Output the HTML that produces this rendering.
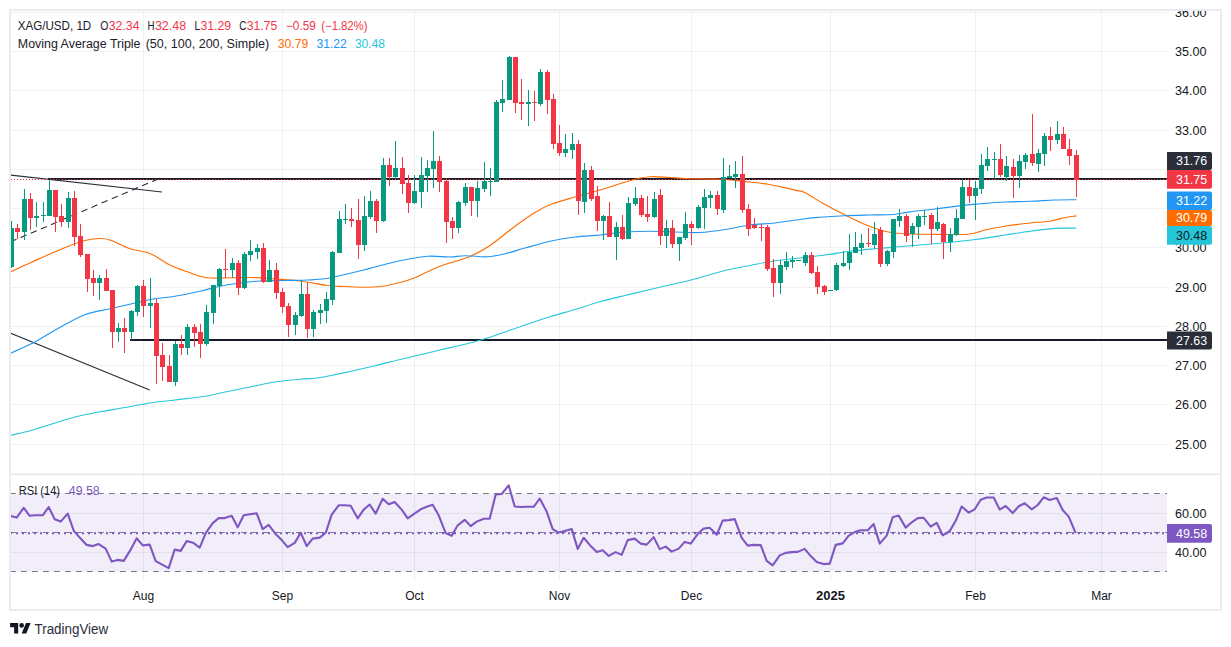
<!DOCTYPE html><html><head><meta charset="utf-8"><title>XAG/USD</title>
<style>html,body{margin:0;padding:0;background:#fff;}body{width:1231px;height:647px;overflow:hidden;}svg{display:block;position:absolute;left:0;top:0;}text{font-family:"Liberation Sans",sans-serif;}</style></head><body>
<svg width="1231" height="647" viewBox="0 0 1231 647">
<rect width="1231" height="647" fill="#fff"/>
<defs><clipPath id="plot"><rect x="11" y="11" width="1156" height="463"/></clipPath><clipPath id="rsi"><rect x="11" y="475" width="1156" height="105"/></clipPath><clipPath id="axis"><rect x="1167" y="11" width="54" height="463"/></clipPath></defs>
<rect x="11" y="493.5" width="1156" height="78" fill="#f1edf9"/>
<g stroke="rgba(42,46,57,0.065)" stroke-width="1" shape-rendering="crispEdges">
<line x1="11" x2="1167" y1="444.5" y2="444.5"/>
<line x1="11" x2="1167" y1="404.5" y2="404.5"/>
<line x1="11" x2="1167" y1="365.5" y2="365.5"/>
<line x1="11" x2="1167" y1="326.5" y2="326.5"/>
<line x1="11" x2="1167" y1="287.5" y2="287.5"/>
<line x1="11" x2="1167" y1="247.5" y2="247.5"/>
<line x1="11" x2="1167" y1="208.5" y2="208.5"/>
<line x1="11" x2="1167" y1="169.5" y2="169.5"/>
<line x1="11" x2="1167" y1="130.5" y2="130.5"/>
<line x1="11" x2="1167" y1="90.5" y2="90.5"/>
<line x1="11" x2="1167" y1="51.5" y2="51.5"/>
<line x1="11" x2="1167" y1="12.5" y2="12.5"/>
</g>
<g stroke="rgba(42,46,57,0.065)" stroke-width="1" shape-rendering="crispEdges">
<line x1="11" x2="1167" y1="513.5" y2="513.5"/>
<line x1="11" x2="1167" y1="552.5" y2="552.5"/>
</g>
<g stroke="rgba(42,46,57,0.065)" stroke-width="1" shape-rendering="crispEdges">
<line x1="143.5" x2="143.5" y1="11" y2="474"/>
<line x1="282.5" x2="282.5" y1="11" y2="474"/>
<line x1="414.5" x2="414.5" y1="11" y2="474"/>
<line x1="559.5" x2="559.5" y1="11" y2="474"/>
<line x1="691.5" x2="691.5" y1="11" y2="474"/>
<line x1="830.5" x2="830.5" y1="11" y2="474"/>
<line x1="975.5" x2="975.5" y1="11" y2="474"/>
<line x1="1101.5" x2="1101.5" y1="11" y2="474"/>
</g>
<g stroke="rgba(42,46,57,0.065)" stroke-width="1" shape-rendering="crispEdges">
<line x1="143.5" x2="143.5" y1="475" y2="581"/>
<line x1="282.5" x2="282.5" y1="475" y2="581"/>
<line x1="414.5" x2="414.5" y1="475" y2="581"/>
<line x1="559.5" x2="559.5" y1="475" y2="581"/>
<line x1="691.5" x2="691.5" y1="475" y2="581"/>
<line x1="830.5" x2="830.5" y1="475" y2="581"/>
<line x1="975.5" x2="975.5" y1="475" y2="581"/>
<line x1="1101.5" x2="1101.5" y1="475" y2="581"/>
</g>
<rect x="11" y="473.5" width="1210" height="1.6" fill="#e6e8ee"/>
<g shape-rendering="crispEdges">
<rect x="130" y="339" width="1037" height="2" fill="#181c28"/>
<rect x="47.6" y="178" width="1119.4" height="2" fill="#181c28"/>
</g>
<g clip-path="url(#plot)" fill="none">
<line x1="10" y1="175" x2="162" y2="192" stroke="#2a2e39" stroke-width="1.1"/>
<line x1="10" y1="333" x2="149.7" y2="390" stroke="#2a2e39" stroke-width="1.1"/>
<line x1="10.5" y1="241.9" x2="157" y2="179.5" stroke="#2a2e39" stroke-width="1.1" stroke-dasharray="6.5 4.5"/>
</g>
<g clip-path="url(#plot)" fill="none" stroke-linejoin="round" stroke-linecap="round">
<path d="M10.0,272.0 C13.3,270.5 23.3,266.0 30.0,263.0 C36.7,260.0 43.3,256.9 50.0,254.0 C56.7,251.1 64.2,247.8 70.0,245.5 C75.8,243.2 80.0,241.7 85.0,240.5 C90.0,239.3 95.8,238.6 100.0,238.5 C104.2,238.4 105.0,238.3 110.0,240.0 C115.0,241.7 123.3,246.5 130.0,248.8 C136.7,251.0 143.3,250.8 150.0,253.5 C156.7,256.2 163.8,262.0 170.0,265.0 C176.2,268.0 181.3,269.6 187.5,271.8 C193.7,273.9 196.6,276.8 207.0,277.8 C217.4,278.7 238.7,277.3 250.0,277.5 C261.3,277.7 266.7,278.4 275.0,279.0 C283.3,279.6 291.2,279.9 300.0,281.0 C308.8,282.1 320.0,284.6 327.5,285.5 C335.0,286.4 339.2,286.2 345.0,286.5 C350.8,286.8 356.2,287.3 362.5,287.2 C368.8,287.2 376.2,287.0 382.5,286.2 C388.8,285.5 394.8,283.9 400.0,282.5 C405.2,281.1 407.3,280.7 414.0,278.0 C420.7,275.3 430.7,269.8 440.0,266.2 C449.3,262.7 461.7,260.0 470.0,256.5 C478.3,253.0 482.5,250.5 490.0,245.5 C497.5,240.5 507.5,231.8 515.0,226.2 C522.5,220.8 528.8,216.2 535.0,212.5 C541.2,208.8 545.8,206.3 552.5,203.8 C559.2,201.2 567.1,199.3 575.0,197.0 C582.9,194.7 590.4,192.8 600.0,190.0 C609.6,187.2 624.2,182.2 632.5,180.0 C640.8,177.8 643.8,177.2 650.0,176.8 C656.2,176.3 663.2,177.2 670.0,177.5 C676.8,177.8 682.7,178.5 691.0,178.8 C699.3,179.0 711.0,178.8 720.0,179.2 C729.0,179.7 738.8,181.0 745.0,181.6 C751.2,182.2 753.2,182.4 757.0,182.8 C760.8,183.2 764.5,183.6 768.0,184.2 C771.5,184.8 774.7,185.5 778.0,186.2 C781.3,186.9 784.8,187.7 788.0,188.4 C791.2,189.1 794.2,189.9 797.0,190.6 C799.8,191.3 800.3,190.4 805.0,192.7 C809.7,195.0 818.3,200.8 825.0,204.5 C831.7,208.2 838.3,211.7 845.0,215.0 C851.7,218.3 858.3,221.8 865.0,224.5 C871.7,227.2 878.3,229.7 885.0,231.2 C891.7,232.8 897.5,233.2 905.0,233.8 C912.5,234.2 919.6,234.2 930.0,234.2 C940.4,234.3 958.3,235.0 967.5,234.2 C976.7,233.5 978.8,231.3 985.0,230.0 C991.2,228.7 997.5,227.4 1005.0,226.2 C1012.5,225.1 1022.5,223.8 1030.0,223.0 C1037.5,222.2 1044.2,222.2 1050.0,221.2 C1055.8,220.3 1060.7,218.4 1065.0,217.5 C1069.3,216.6 1074.2,216.2 1076.0,215.9" stroke="#ff6d00" stroke-width="1.15"/>
<path d="M10.0,353.5 C14.1,351.6 28.0,345.4 34.3,342.2 C40.5,339.0 43.1,337.0 47.5,334.5 C51.9,332.0 54.5,330.3 60.7,327.0 C66.9,323.7 76.6,317.7 84.8,314.7 C93.0,311.7 101.6,310.7 110.0,308.8 C118.4,306.8 127.5,304.7 135.0,303.0 C142.5,301.3 148.3,299.9 155.0,298.8 C161.7,297.6 167.5,297.5 175.0,296.2 C182.5,295.0 192.5,292.9 200.0,291.2 C207.5,289.6 213.3,287.6 220.0,286.2 C226.7,284.9 233.3,283.9 240.0,283.0 C246.7,282.1 252.5,281.4 260.0,281.0 C267.5,280.6 277.1,280.7 285.0,280.5 C292.9,280.3 300.8,280.3 307.5,280.0 C314.2,279.7 318.8,279.7 325.0,278.8 C331.2,277.8 338.6,276.0 345.0,274.5 C351.4,273.0 358.6,271.2 363.6,270.0 C368.6,268.8 368.9,268.5 375.0,267.0 C381.1,265.5 391.2,262.5 400.0,260.8 C408.8,259.0 419.2,256.9 427.5,256.2 C435.8,255.6 443.8,257.1 450.0,257.0 C456.2,256.9 458.8,255.8 465.0,255.8 C471.2,255.7 480.8,257.1 487.5,256.8 C494.2,256.4 498.8,255.2 505.0,253.8 C511.2,252.3 517.5,250.1 525.0,248.0 C532.5,245.9 541.7,243.1 550.0,241.2 C558.3,239.4 566.7,238.0 575.0,237.0 C583.3,236.0 591.7,235.8 600.0,235.0 C608.3,234.2 616.7,232.6 625.0,232.0 C633.3,231.4 641.7,231.2 650.0,231.2 C658.3,231.2 666.7,231.8 675.0,232.0 C683.3,232.2 691.7,232.9 700.0,232.5 C708.3,232.1 716.7,230.8 725.0,229.5 C733.3,228.2 741.7,226.1 750.0,225.0 C758.3,223.9 765.8,224.0 775.0,223.0 C784.2,222.0 797.5,219.7 805.0,218.8 C812.5,217.8 813.1,217.8 819.7,217.3 C826.3,216.8 836.2,216.2 844.5,215.8 C852.8,215.4 861.8,215.2 869.2,215.0 C876.6,214.8 883.6,215.1 889.0,214.8 C894.4,214.5 897.2,213.9 901.3,213.3 C905.4,212.7 909.2,211.9 913.7,211.3 C918.2,210.7 923.5,210.4 928.5,209.8 C933.5,209.2 936.8,208.7 943.4,207.9 C950.0,207.1 961.9,205.6 968.0,204.9 C974.1,204.2 973.8,204.3 980.0,203.8 C986.2,203.3 996.7,202.4 1005.0,202.0 C1013.3,201.6 1021.7,201.6 1030.0,201.2 C1038.3,200.9 1047.3,200.3 1055.0,200.0 C1062.7,199.7 1072.5,199.8 1076.0,199.7" stroke="#2196f3" stroke-width="1.15"/>
<path d="M10.0,435.5 C13.3,434.7 23.3,432.6 30.0,430.8 C36.7,428.9 42.5,426.8 50.0,424.5 C57.5,422.2 66.7,419.1 75.0,417.0 C83.3,414.9 91.7,413.3 100.0,411.8 C108.3,410.2 116.7,409.0 125.0,407.5 C133.3,406.0 141.7,404.2 150.0,403.0 C158.3,401.8 165.8,401.1 175.0,400.0 C184.2,398.9 196.7,397.6 205.0,396.2 C213.3,394.9 217.5,393.5 225.0,392.0 C232.5,390.5 241.7,388.7 250.0,387.0 C258.3,385.3 266.7,383.3 275.0,382.0 C283.3,380.7 293.3,379.9 300.0,379.2 C306.7,378.6 310.8,378.7 315.0,378.2 C319.2,377.8 319.2,377.9 325.0,376.8 C330.8,375.6 341.7,373.3 350.0,371.5 C358.3,369.7 366.7,367.8 375.0,365.8 C383.3,363.8 393.3,361.1 400.0,359.5 C406.7,357.9 408.3,357.6 415.0,356.0 C421.7,354.4 432.5,351.8 440.0,350.0 C447.5,348.2 452.9,347.2 460.0,345.5 C467.1,343.8 475.8,341.5 482.5,339.5 C489.2,337.5 492.9,336.2 500.0,333.8 C507.1,331.3 516.7,327.8 525.0,325.0 C533.3,322.2 541.7,319.3 550.0,316.8 C558.3,314.2 566.7,312.0 575.0,309.5 C583.3,307.0 591.7,304.1 600.0,301.8 C608.3,299.4 616.7,297.5 625.0,295.5 C633.3,293.5 639.0,292.1 650.0,289.5 C661.0,286.9 678.5,283.2 691.0,280.0 C703.5,276.8 715.2,272.9 725.0,270.5 C734.8,268.1 741.7,267.1 750.0,265.5 C758.3,263.9 766.7,262.0 775.0,260.8 C783.3,259.5 791.7,259.0 800.0,258.0 C808.3,257.0 816.7,256.1 825.0,255.0 C833.3,253.9 841.7,252.3 850.0,251.2 C858.3,250.2 865.8,249.6 875.0,248.8 C884.2,247.9 893.8,247.2 905.0,246.2 C916.2,245.3 930.8,244.1 942.5,243.0 C954.2,241.9 964.6,240.8 975.0,239.5 C985.4,238.2 995.8,236.4 1005.0,235.0 C1014.2,233.6 1021.7,232.3 1030.0,231.2 C1038.3,230.2 1047.3,228.9 1055.0,228.4 C1062.7,227.9 1072.5,228.2 1076.0,228.2" stroke="#26c6da" stroke-width="1.15"/>
</g>
<g clip-path="url(#plot)" shape-rendering="crispEdges">
<rect x="11" y="221" width="1" height="47" fill="#089981"/>
<rect x="9" y="228" width="5" height="39" fill="#089981"/>
<rect x="17" y="224" width="1" height="15" fill="#f23645"/>
<rect x="15" y="228" width="5" height="4" fill="#f23645"/>
<rect x="24" y="189" width="1" height="51" fill="#089981"/>
<rect x="22" y="199" width="5" height="33" fill="#089981"/>
<rect x="30" y="193" width="1" height="37" fill="#f23645"/>
<rect x="28" y="199" width="5" height="19" fill="#f23645"/>
<rect x="36" y="202" width="1" height="25" fill="#089981"/>
<rect x="34" y="216" width="5" height="2" fill="#089981"/>
<rect x="43" y="202" width="1" height="20" fill="#089981"/>
<rect x="41" y="215" width="5" height="1" fill="#089981"/>
<rect x="49" y="180" width="1" height="36" fill="#089981"/>
<rect x="47" y="190" width="5" height="26" fill="#089981"/>
<rect x="55" y="190" width="1" height="42" fill="#f23645"/>
<rect x="53" y="190" width="5" height="27" fill="#f23645"/>
<rect x="61" y="204" width="1" height="23" fill="#f23645"/>
<rect x="59" y="216" width="5" height="6" fill="#f23645"/>
<rect x="68" y="192" width="1" height="36" fill="#089981"/>
<rect x="66" y="198" width="5" height="24" fill="#089981"/>
<rect x="74" y="191" width="1" height="55" fill="#f23645"/>
<rect x="72" y="198" width="5" height="39" fill="#f23645"/>
<rect x="80" y="224" width="1" height="33" fill="#f23645"/>
<rect x="78" y="236" width="5" height="19" fill="#f23645"/>
<rect x="87" y="254" width="1" height="38" fill="#f23645"/>
<rect x="85" y="254" width="5" height="25" fill="#f23645"/>
<rect x="93" y="270" width="1" height="26" fill="#f23645"/>
<rect x="91" y="278" width="5" height="5" fill="#f23645"/>
<rect x="99" y="275" width="1" height="25" fill="#089981"/>
<rect x="97" y="278" width="5" height="5" fill="#089981"/>
<rect x="106" y="269" width="1" height="22" fill="#f23645"/>
<rect x="104" y="278" width="5" height="13" fill="#f23645"/>
<rect x="112" y="290" width="1" height="58" fill="#f23645"/>
<rect x="110" y="290" width="5" height="42" fill="#f23645"/>
<rect x="118" y="323" width="1" height="19" fill="#089981"/>
<rect x="116" y="328" width="5" height="4" fill="#089981"/>
<rect x="124" y="318" width="1" height="35" fill="#f23645"/>
<rect x="122" y="328" width="5" height="4" fill="#f23645"/>
<rect x="131" y="310" width="1" height="30" fill="#089981"/>
<rect x="129" y="311" width="5" height="21" fill="#089981"/>
<rect x="137" y="285" width="1" height="31" fill="#089981"/>
<rect x="135" y="286" width="5" height="26" fill="#089981"/>
<rect x="143" y="280" width="1" height="37" fill="#f23645"/>
<rect x="141" y="286" width="5" height="20" fill="#f23645"/>
<rect x="150" y="278" width="1" height="50" fill="#089981"/>
<rect x="148" y="303" width="5" height="3" fill="#089981"/>
<rect x="156" y="299" width="1" height="85" fill="#f23645"/>
<rect x="154" y="303" width="5" height="53" fill="#f23645"/>
<rect x="162" y="343" width="1" height="38" fill="#f23645"/>
<rect x="160" y="355" width="5" height="12" fill="#f23645"/>
<rect x="169" y="355" width="1" height="27" fill="#f23645"/>
<rect x="167" y="366" width="5" height="16" fill="#f23645"/>
<rect x="175" y="341" width="1" height="45" fill="#089981"/>
<rect x="173" y="344" width="5" height="38" fill="#089981"/>
<rect x="181" y="335" width="1" height="20" fill="#f23645"/>
<rect x="179" y="344" width="5" height="4" fill="#f23645"/>
<rect x="187" y="324" width="1" height="31" fill="#089981"/>
<rect x="185" y="327" width="5" height="21" fill="#089981"/>
<rect x="194" y="324" width="1" height="23" fill="#f23645"/>
<rect x="192" y="327" width="5" height="6" fill="#f23645"/>
<rect x="200" y="324" width="1" height="34" fill="#f23645"/>
<rect x="198" y="332" width="5" height="12" fill="#f23645"/>
<rect x="206" y="305" width="1" height="41" fill="#089981"/>
<rect x="204" y="312" width="5" height="32" fill="#089981"/>
<rect x="213" y="285" width="1" height="39" fill="#089981"/>
<rect x="211" y="285" width="5" height="28" fill="#089981"/>
<rect x="219" y="268" width="1" height="29" fill="#089981"/>
<rect x="217" y="269" width="5" height="17" fill="#089981"/>
<rect x="225" y="249" width="1" height="29" fill="#f23645"/>
<rect x="223" y="269" width="5" height="1" fill="#f23645"/>
<rect x="232" y="258" width="1" height="20" fill="#089981"/>
<rect x="230" y="263" width="5" height="7" fill="#089981"/>
<rect x="238" y="260" width="1" height="35" fill="#f23645"/>
<rect x="236" y="263" width="5" height="25" fill="#f23645"/>
<rect x="244" y="252" width="1" height="37" fill="#089981"/>
<rect x="242" y="254" width="5" height="34" fill="#089981"/>
<rect x="250" y="240" width="1" height="21" fill="#089981"/>
<rect x="248" y="251" width="5" height="4" fill="#089981"/>
<rect x="257" y="244" width="1" height="15" fill="#089981"/>
<rect x="255" y="248" width="5" height="4" fill="#089981"/>
<rect x="263" y="243" width="1" height="40" fill="#f23645"/>
<rect x="261" y="248" width="5" height="34" fill="#f23645"/>
<rect x="269" y="260" width="1" height="22" fill="#089981"/>
<rect x="267" y="270" width="5" height="12" fill="#089981"/>
<rect x="276" y="263" width="1" height="36" fill="#f23645"/>
<rect x="274" y="270" width="5" height="23" fill="#f23645"/>
<rect x="282" y="288" width="1" height="25" fill="#f23645"/>
<rect x="280" y="292" width="5" height="15" fill="#f23645"/>
<rect x="288" y="303" width="1" height="34" fill="#f23645"/>
<rect x="286" y="306" width="5" height="19" fill="#f23645"/>
<rect x="295" y="312" width="1" height="23" fill="#089981"/>
<rect x="293" y="315" width="5" height="10" fill="#089981"/>
<rect x="301" y="280" width="1" height="37" fill="#089981"/>
<rect x="299" y="294" width="5" height="22" fill="#089981"/>
<rect x="307" y="282" width="1" height="56" fill="#f23645"/>
<rect x="305" y="294" width="5" height="35" fill="#f23645"/>
<rect x="313" y="310" width="1" height="27" fill="#089981"/>
<rect x="311" y="312" width="5" height="17" fill="#089981"/>
<rect x="320" y="304" width="1" height="20" fill="#089981"/>
<rect x="318" y="310" width="5" height="3" fill="#089981"/>
<rect x="326" y="292" width="1" height="31" fill="#089981"/>
<rect x="324" y="299" width="5" height="12" fill="#089981"/>
<rect x="332" y="251" width="1" height="54" fill="#089981"/>
<rect x="330" y="252" width="5" height="48" fill="#089981"/>
<rect x="339" y="211" width="1" height="42" fill="#089981"/>
<rect x="337" y="219" width="5" height="34" fill="#089981"/>
<rect x="345" y="204" width="1" height="20" fill="#089981"/>
<rect x="343" y="219" width="5" height="1" fill="#089981"/>
<rect x="351" y="208" width="1" height="19" fill="#f23645"/>
<rect x="349" y="219" width="5" height="2" fill="#f23645"/>
<rect x="358" y="199" width="1" height="60" fill="#f23645"/>
<rect x="356" y="220" width="5" height="25" fill="#f23645"/>
<rect x="364" y="196" width="1" height="55" fill="#089981"/>
<rect x="362" y="216" width="5" height="29" fill="#089981"/>
<rect x="370" y="191" width="1" height="28" fill="#089981"/>
<rect x="368" y="201" width="5" height="16" fill="#089981"/>
<rect x="376" y="199" width="1" height="34" fill="#f23645"/>
<rect x="374" y="201" width="5" height="20" fill="#f23645"/>
<rect x="383" y="158" width="1" height="64" fill="#089981"/>
<rect x="381" y="165" width="5" height="56" fill="#089981"/>
<rect x="389" y="158" width="1" height="28" fill="#f23645"/>
<rect x="387" y="165" width="5" height="12" fill="#f23645"/>
<rect x="395" y="141" width="1" height="38" fill="#089981"/>
<rect x="393" y="168" width="5" height="9" fill="#089981"/>
<rect x="402" y="157" width="1" height="37" fill="#f23645"/>
<rect x="400" y="168" width="5" height="16" fill="#f23645"/>
<rect x="408" y="175" width="1" height="38" fill="#f23645"/>
<rect x="406" y="183" width="5" height="20" fill="#f23645"/>
<rect x="414" y="175" width="1" height="29" fill="#089981"/>
<rect x="412" y="191" width="5" height="12" fill="#089981"/>
<rect x="421" y="157" width="1" height="51" fill="#089981"/>
<rect x="419" y="175" width="5" height="17" fill="#089981"/>
<rect x="427" y="160" width="1" height="32" fill="#089981"/>
<rect x="425" y="168" width="5" height="8" fill="#089981"/>
<rect x="433" y="131" width="1" height="57" fill="#089981"/>
<rect x="431" y="161" width="5" height="8" fill="#089981"/>
<rect x="439" y="156" width="1" height="36" fill="#f23645"/>
<rect x="437" y="161" width="5" height="21" fill="#f23645"/>
<rect x="446" y="178" width="1" height="65" fill="#f23645"/>
<rect x="444" y="181" width="5" height="41" fill="#f23645"/>
<rect x="452" y="217" width="1" height="22" fill="#f23645"/>
<rect x="450" y="221" width="5" height="7" fill="#f23645"/>
<rect x="458" y="201" width="1" height="32" fill="#089981"/>
<rect x="456" y="202" width="5" height="26" fill="#089981"/>
<rect x="465" y="183" width="1" height="23" fill="#089981"/>
<rect x="463" y="187" width="5" height="16" fill="#089981"/>
<rect x="471" y="187" width="1" height="29" fill="#f23645"/>
<rect x="469" y="187" width="5" height="14" fill="#f23645"/>
<rect x="477" y="181" width="1" height="36" fill="#089981"/>
<rect x="475" y="188" width="5" height="13" fill="#089981"/>
<rect x="484" y="162" width="1" height="30" fill="#089981"/>
<rect x="482" y="181" width="5" height="8" fill="#089981"/>
<rect x="490" y="168" width="1" height="28" fill="#089981"/>
<rect x="488" y="181" width="5" height="1" fill="#089981"/>
<rect x="496" y="100" width="1" height="82" fill="#089981"/>
<rect x="494" y="102" width="5" height="80" fill="#089981"/>
<rect x="502" y="80" width="1" height="32" fill="#089981"/>
<rect x="500" y="99" width="5" height="4" fill="#089981"/>
<rect x="509" y="56" width="1" height="44" fill="#089981"/>
<rect x="507" y="57" width="5" height="43" fill="#089981"/>
<rect x="515" y="57" width="1" height="56" fill="#f23645"/>
<rect x="513" y="57" width="5" height="46" fill="#f23645"/>
<rect x="521" y="79" width="1" height="41" fill="#f23645"/>
<rect x="519" y="102" width="5" height="2" fill="#f23645"/>
<rect x="528" y="90" width="1" height="36" fill="#089981"/>
<rect x="526" y="102" width="5" height="2" fill="#089981"/>
<rect x="534" y="91" width="1" height="30" fill="#f23645"/>
<rect x="532" y="102" width="5" height="1" fill="#f23645"/>
<rect x="540" y="69" width="1" height="37" fill="#089981"/>
<rect x="538" y="72" width="5" height="32" fill="#089981"/>
<rect x="547" y="70" width="1" height="44" fill="#f23645"/>
<rect x="545" y="72" width="5" height="28" fill="#f23645"/>
<rect x="553" y="94" width="1" height="55" fill="#f23645"/>
<rect x="551" y="99" width="5" height="45" fill="#f23645"/>
<rect x="559" y="125" width="1" height="31" fill="#f23645"/>
<rect x="557" y="143" width="5" height="10" fill="#f23645"/>
<rect x="565" y="134" width="1" height="23" fill="#089981"/>
<rect x="563" y="149" width="5" height="4" fill="#089981"/>
<rect x="572" y="133" width="1" height="26" fill="#089981"/>
<rect x="570" y="144" width="5" height="6" fill="#089981"/>
<rect x="578" y="140" width="1" height="75" fill="#f23645"/>
<rect x="576" y="144" width="5" height="57" fill="#f23645"/>
<rect x="584" y="163" width="1" height="50" fill="#089981"/>
<rect x="582" y="170" width="5" height="32" fill="#089981"/>
<rect x="591" y="166" width="1" height="35" fill="#f23645"/>
<rect x="589" y="170" width="5" height="29" fill="#f23645"/>
<rect x="597" y="186" width="1" height="45" fill="#f23645"/>
<rect x="595" y="196" width="5" height="25" fill="#f23645"/>
<rect x="603" y="215" width="1" height="25" fill="#089981"/>
<rect x="601" y="216" width="5" height="5" fill="#089981"/>
<rect x="609" y="202" width="1" height="35" fill="#f23645"/>
<rect x="607" y="216" width="5" height="21" fill="#f23645"/>
<rect x="616" y="222" width="1" height="38" fill="#089981"/>
<rect x="614" y="227" width="5" height="10" fill="#089981"/>
<rect x="622" y="215" width="1" height="25" fill="#f23645"/>
<rect x="620" y="227" width="5" height="12" fill="#f23645"/>
<rect x="628" y="197" width="1" height="42" fill="#089981"/>
<rect x="626" y="203" width="5" height="36" fill="#089981"/>
<rect x="635" y="187" width="1" height="19" fill="#089981"/>
<rect x="633" y="198" width="5" height="6" fill="#089981"/>
<rect x="641" y="195" width="1" height="22" fill="#f23645"/>
<rect x="639" y="198" width="5" height="17" fill="#f23645"/>
<rect x="647" y="196" width="1" height="26" fill="#f23645"/>
<rect x="645" y="214" width="5" height="3" fill="#f23645"/>
<rect x="654" y="192" width="1" height="26" fill="#089981"/>
<rect x="652" y="199" width="5" height="18" fill="#089981"/>
<rect x="660" y="189" width="1" height="56" fill="#f23645"/>
<rect x="658" y="195" width="5" height="41" fill="#f23645"/>
<rect x="666" y="220" width="1" height="28" fill="#089981"/>
<rect x="664" y="228" width="5" height="8" fill="#089981"/>
<rect x="672" y="220" width="1" height="28" fill="#f23645"/>
<rect x="670" y="228" width="5" height="16" fill="#f23645"/>
<rect x="679" y="237" width="1" height="24" fill="#089981"/>
<rect x="677" y="237" width="5" height="7" fill="#089981"/>
<rect x="685" y="212" width="1" height="28" fill="#089981"/>
<rect x="683" y="224" width="5" height="14" fill="#089981"/>
<rect x="691" y="221" width="1" height="24" fill="#f23645"/>
<rect x="689" y="224" width="5" height="4" fill="#f23645"/>
<rect x="698" y="205" width="1" height="24" fill="#089981"/>
<rect x="696" y="207" width="5" height="21" fill="#089981"/>
<rect x="704" y="189" width="1" height="40" fill="#089981"/>
<rect x="702" y="197" width="5" height="11" fill="#089981"/>
<rect x="710" y="191" width="1" height="17" fill="#089981"/>
<rect x="708" y="195" width="5" height="3" fill="#089981"/>
<rect x="717" y="191" width="1" height="24" fill="#f23645"/>
<rect x="715" y="195" width="5" height="14" fill="#f23645"/>
<rect x="723" y="158" width="1" height="55" fill="#089981"/>
<rect x="721" y="177" width="5" height="33" fill="#089981"/>
<rect x="729" y="165" width="1" height="13" fill="#089981"/>
<rect x="727" y="176" width="5" height="2" fill="#089981"/>
<rect x="735" y="161" width="1" height="27" fill="#089981"/>
<rect x="733" y="174" width="5" height="3" fill="#089981"/>
<rect x="742" y="156" width="1" height="57" fill="#f23645"/>
<rect x="740" y="174" width="5" height="36" fill="#f23645"/>
<rect x="748" y="204" width="1" height="32" fill="#f23645"/>
<rect x="746" y="209" width="5" height="20" fill="#f23645"/>
<rect x="754" y="218" width="1" height="11" fill="#f23645"/>
<rect x="752" y="225" width="5" height="3" fill="#f23645"/>
<rect x="761" y="224" width="1" height="17" fill="#f23645"/>
<rect x="759" y="227" width="5" height="1" fill="#f23645"/>
<rect x="767" y="225" width="1" height="46" fill="#f23645"/>
<rect x="765" y="227" width="5" height="42" fill="#f23645"/>
<rect x="773" y="259" width="1" height="38" fill="#f23645"/>
<rect x="771" y="268" width="5" height="15" fill="#f23645"/>
<rect x="780" y="260" width="1" height="34" fill="#089981"/>
<rect x="778" y="265" width="5" height="18" fill="#089981"/>
<rect x="786" y="252" width="1" height="18" fill="#089981"/>
<rect x="784" y="261" width="5" height="6" fill="#089981"/>
<rect x="792" y="256" width="1" height="12" fill="#089981"/>
<rect x="790" y="260" width="5" height="2" fill="#089981"/>
<rect x="798" y="260" width="1" height="1" fill="#089981"/>
<rect x="796" y="260" width="5" height="1" fill="#089981"/>
<rect x="805" y="252" width="1" height="14" fill="#089981"/>
<rect x="803" y="255" width="5" height="8" fill="#089981"/>
<rect x="811" y="252" width="1" height="22" fill="#f23645"/>
<rect x="809" y="255" width="5" height="18" fill="#f23645"/>
<rect x="817" y="266" width="1" height="28" fill="#f23645"/>
<rect x="815" y="272" width="5" height="15" fill="#f23645"/>
<rect x="824" y="285" width="1" height="10" fill="#f23645"/>
<rect x="822" y="286" width="5" height="6" fill="#f23645"/>
<rect x="830" y="290" width="1" height="1" fill="#089981"/>
<rect x="828" y="290" width="5" height="1" fill="#089981"/>
<rect x="836" y="263" width="1" height="28" fill="#089981"/>
<rect x="834" y="265" width="5" height="25" fill="#089981"/>
<rect x="843" y="251" width="1" height="16" fill="#089981"/>
<rect x="841" y="263" width="5" height="3" fill="#089981"/>
<rect x="849" y="234" width="1" height="36" fill="#089981"/>
<rect x="847" y="252" width="5" height="11" fill="#089981"/>
<rect x="855" y="232" width="1" height="21" fill="#089981"/>
<rect x="853" y="247" width="5" height="6" fill="#089981"/>
<rect x="861" y="234" width="1" height="21" fill="#089981"/>
<rect x="859" y="243" width="5" height="5" fill="#089981"/>
<rect x="868" y="228" width="1" height="19" fill="#f23645"/>
<rect x="866" y="243" width="5" height="1" fill="#f23645"/>
<rect x="874" y="222" width="1" height="27" fill="#089981"/>
<rect x="872" y="234" width="5" height="11" fill="#089981"/>
<rect x="880" y="227" width="1" height="40" fill="#f23645"/>
<rect x="878" y="230" width="5" height="34" fill="#f23645"/>
<rect x="887" y="250" width="1" height="16" fill="#089981"/>
<rect x="885" y="251" width="5" height="13" fill="#089981"/>
<rect x="893" y="219" width="1" height="39" fill="#089981"/>
<rect x="891" y="219" width="5" height="33" fill="#089981"/>
<rect x="899" y="209" width="1" height="18" fill="#089981"/>
<rect x="897" y="216" width="5" height="5" fill="#089981"/>
<rect x="906" y="214" width="1" height="28" fill="#f23645"/>
<rect x="904" y="216" width="5" height="20" fill="#f23645"/>
<rect x="912" y="223" width="1" height="24" fill="#089981"/>
<rect x="910" y="226" width="5" height="8" fill="#089981"/>
<rect x="918" y="214" width="1" height="25" fill="#089981"/>
<rect x="916" y="216" width="5" height="11" fill="#089981"/>
<rect x="924" y="210" width="1" height="15" fill="#089981"/>
<rect x="922" y="216" width="5" height="1" fill="#089981"/>
<rect x="931" y="213" width="1" height="31" fill="#f23645"/>
<rect x="929" y="215" width="5" height="14" fill="#f23645"/>
<rect x="937" y="207" width="1" height="24" fill="#089981"/>
<rect x="935" y="222" width="5" height="7" fill="#089981"/>
<rect x="943" y="223" width="1" height="36" fill="#f23645"/>
<rect x="941" y="224" width="5" height="18" fill="#f23645"/>
<rect x="950" y="228" width="1" height="24" fill="#089981"/>
<rect x="948" y="234" width="5" height="8" fill="#089981"/>
<rect x="956" y="209" width="1" height="27" fill="#089981"/>
<rect x="954" y="218" width="5" height="17" fill="#089981"/>
<rect x="962" y="179" width="1" height="40" fill="#089981"/>
<rect x="960" y="187" width="5" height="32" fill="#089981"/>
<rect x="969" y="180" width="1" height="23" fill="#f23645"/>
<rect x="967" y="187" width="5" height="9" fill="#f23645"/>
<rect x="975" y="181" width="1" height="39" fill="#089981"/>
<rect x="973" y="188" width="5" height="8" fill="#089981"/>
<rect x="981" y="154" width="1" height="40" fill="#089981"/>
<rect x="979" y="165" width="5" height="24" fill="#089981"/>
<rect x="987" y="147" width="1" height="24" fill="#089981"/>
<rect x="985" y="159" width="5" height="7" fill="#089981"/>
<rect x="994" y="152" width="1" height="27" fill="#089981"/>
<rect x="992" y="159" width="5" height="1" fill="#089981"/>
<rect x="1000" y="144" width="1" height="33" fill="#f23645"/>
<rect x="998" y="159" width="5" height="16" fill="#f23645"/>
<rect x="1006" y="156" width="1" height="25" fill="#089981"/>
<rect x="1004" y="166" width="5" height="11" fill="#089981"/>
<rect x="1013" y="159" width="1" height="39" fill="#f23645"/>
<rect x="1011" y="167" width="5" height="9" fill="#f23645"/>
<rect x="1019" y="155" width="1" height="33" fill="#089981"/>
<rect x="1017" y="161" width="5" height="15" fill="#089981"/>
<rect x="1025" y="153" width="1" height="16" fill="#089981"/>
<rect x="1023" y="155" width="5" height="7" fill="#089981"/>
<rect x="1032" y="114" width="1" height="52" fill="#f23645"/>
<rect x="1030" y="154" width="5" height="9" fill="#f23645"/>
<rect x="1038" y="149" width="1" height="23" fill="#089981"/>
<rect x="1036" y="153" width="5" height="11" fill="#089981"/>
<rect x="1044" y="133" width="1" height="33" fill="#089981"/>
<rect x="1042" y="136" width="5" height="18" fill="#089981"/>
<rect x="1050" y="127" width="1" height="24" fill="#f23645"/>
<rect x="1048" y="136" width="5" height="4" fill="#f23645"/>
<rect x="1057" y="121" width="1" height="23" fill="#089981"/>
<rect x="1055" y="134" width="5" height="6" fill="#089981"/>
<rect x="1063" y="127" width="1" height="22" fill="#f23645"/>
<rect x="1061" y="134" width="5" height="15" fill="#f23645"/>
<rect x="1069" y="139" width="1" height="26" fill="#f23645"/>
<rect x="1067" y="149" width="5" height="7" fill="#f23645"/>
<rect x="1076" y="150" width="1" height="47" fill="#f23645"/>
<rect x="1074" y="155" width="5" height="25" fill="#f23645"/>
</g>
<line x1="11" x2="1167" y1="179.5" y2="179.5" stroke="#f23645" stroke-width="1" stroke-dasharray="1 2" shape-rendering="crispEdges"/>
<g clip-path="url(#rsi)" fill="none">
<g stroke="#787b86" stroke-width="1" stroke-dasharray="5.8 5.2">
<line x1="10" x2="1167" y1="493.5" y2="493.5"/>
<line x1="10" x2="1167" y1="532.5" y2="532.5"/>
<line x1="10" x2="1167" y1="571.5" y2="571.5"/>
</g>
<line x1="10" x2="1167" y1="533.2" y2="533.2" stroke="#7e57c2" stroke-width="2" stroke-dasharray="2 4"/>
<path d="M10.7,516.0 L16.7,517.6 L23.7,507.8 L29.7,515.8 L35.7,515.3 L42.7,515.3 L48.7,507.0 L54.7,519.3 L60.7,521.6 L67.7,513.6 L73.7,530.6 L79.7,537.6 L86.7,544.9 L92.7,546.1 L98.7,544.1 L105.7,548.6 L111.7,561.6 L117.7,559.9 L123.7,560.9 L130.7,549.6 L136.7,538.3 L142.7,545.4 L149.7,544.6 L155.7,561.1 L161.7,564.4 L168.7,568.1 L174.7,549.6 L180.7,550.9 L186.7,541.1 L193.7,543.1 L199.7,547.6 L205.7,533.1 L212.7,523.1 L218.7,518.1 L224.7,518.1 L231.7,515.8 L237.7,527.3 L243.7,515.3 L249.7,514.3 L256.7,513.3 L262.7,529.1 L268.7,524.8 L275.7,534.1 L281.7,540.1 L287.7,547.1 L294.7,542.9 L300.7,532.8 L306.7,546.1 L312.7,538.6 L319.7,537.6 L325.7,532.8 L331.7,514.6 L338.7,505.3 L344.7,505.3 L350.7,505.8 L357.7,518.3 L363.7,509.6 L369.7,504.5 L375.7,513.6 L382.7,498.8 L388.7,504.3 L394.7,502.0 L401.7,509.6 L407.7,518.3 L413.7,514.1 L420.7,509.3 L426.7,506.8 L432.7,504.8 L438.7,515.3 L445.7,533.1 L451.7,535.8 L457.7,525.3 L464.7,519.8 L470.7,526.1 L476.7,521.6 L483.7,518.8 L489.7,518.8 L495.7,494.5 L501.7,494.0 L508.7,485.3 L514.7,506.5 L520.7,507.0 L527.7,506.8 L533.7,506.8 L539.7,498.5 L546.7,511.6 L552.7,529.1 L558.7,532.6 L564.7,531.1 L571.7,529.1 L577.7,548.9 L583.7,537.8 L590.7,546.1 L596.7,552.1 L602.7,550.3 L608.7,555.9 L615.7,552.1 L621.7,554.9 L627.7,540.1 L634.7,538.6 L640.7,543.6 L646.7,544.6 L653.7,537.1 L659.7,549.1 L665.7,546.6 L671.7,551.6 L678.7,548.6 L684.7,541.9 L690.7,543.6 L697.7,534.1 L703.7,528.6 L709.7,527.8 L716.7,534.8 L722.7,520.6 L728.7,520.1 L734.7,519.1 L741.7,537.8 L747.7,545.6 L753.7,544.9 L760.7,545.1 L766.7,560.9 L772.7,565.4 L779.7,555.4 L785.7,552.9 L791.7,552.1 L797.7,551.9 L804.7,548.9 L810.7,556.1 L816.7,562.1 L823.7,564.1 L829.7,563.6 L835.7,544.9 L842.7,543.4 L848.7,535.6 L854.7,532.1 L860.7,530.3 L867.7,530.3 L873.7,524.1 L879.7,543.6 L886.7,535.6 L892.7,517.3 L898.7,515.6 L905.7,527.6 L911.7,522.3 L917.7,518.1 L923.7,517.8 L930.7,526.6 L936.7,522.8 L942.7,535.3 L949.7,531.1 L955.7,520.8 L961.7,506.5 L968.7,512.6 L974.7,509.3 L980.7,499.8 L986.7,497.5 L993.7,497.5 L999.7,509.6 L1005.7,506.0 L1012.7,513.1 L1018.7,506.3 L1024.7,503.3 L1031.7,509.3 L1037.7,505.0 L1043.7,497.3 L1049.7,500.0 L1056.7,498.0 L1062.7,510.0 L1068.7,516.6 L1075.7,533.1" stroke="#7e57c2" stroke-width="2.1" stroke-linejoin="round"/>
</g>
<g font-size="12" fill="#131722">
<text x="1175" y="448.8" textLength="31.5" lengthAdjust="spacingAndGlyphs" clip-path="url(#axis)">25.00</text>
<text x="1175" y="408.8" textLength="31.5" lengthAdjust="spacingAndGlyphs" clip-path="url(#axis)">26.00</text>
<text x="1175" y="369.8" textLength="31.5" lengthAdjust="spacingAndGlyphs" clip-path="url(#axis)">27.00</text>
<text x="1175" y="330.8" textLength="31.5" lengthAdjust="spacingAndGlyphs" clip-path="url(#axis)">28.00</text>
<text x="1175" y="291.8" textLength="31.5" lengthAdjust="spacingAndGlyphs" clip-path="url(#axis)">29.00</text>
<text x="1175" y="251.8" textLength="31.5" lengthAdjust="spacingAndGlyphs" clip-path="url(#axis)">30.00</text>
<text x="1175" y="212.8" textLength="31.5" lengthAdjust="spacingAndGlyphs" clip-path="url(#axis)">31.00</text>
<text x="1175" y="173.8" textLength="31.5" lengthAdjust="spacingAndGlyphs" clip-path="url(#axis)">32.00</text>
<text x="1175" y="134.8" textLength="31.5" lengthAdjust="spacingAndGlyphs" clip-path="url(#axis)">33.00</text>
<text x="1175" y="94.8" textLength="31.5" lengthAdjust="spacingAndGlyphs" clip-path="url(#axis)">34.00</text>
<text x="1175" y="55.8" textLength="31.5" lengthAdjust="spacingAndGlyphs" clip-path="url(#axis)">35.00</text>
<text x="1175" y="16.8" textLength="31.5" lengthAdjust="spacingAndGlyphs" clip-path="url(#axis)">36.00</text>
<text x="1175" y="517.7" textLength="31.5" lengthAdjust="spacingAndGlyphs">60.00</text>
<text x="1175" y="557.2" textLength="31.5" lengthAdjust="spacingAndGlyphs">40.00</text>
</g>
<path d="M1167,331.5 H1210 Q1212,331.5 1212,333.5 V347.5 Q1212,349.5 1210,349.5 H1167 Z" fill="#2a2e39"/>
<text x="1176" y="344.8" font-size="12" fill="#fff" textLength="31.2" lengthAdjust="spacingAndGlyphs">27.63</text>
<path d="M1167,152 H1210 Q1212,152 1212,154 V168 Q1212,170 1210,170 H1167 Z" fill="#2a2e39"/>
<text x="1176" y="165.3" font-size="12" fill="#fff" textLength="31.2" lengthAdjust="spacingAndGlyphs">31.76</text>
<path d="M1167,170 H1210 Q1212,170 1212,172 V186.8 Q1212,188.8 1210,188.8 H1167 Z" fill="#f23645"/>
<text x="1176" y="183.7" font-size="12" fill="#fff" textLength="31.2" lengthAdjust="spacingAndGlyphs">31.75</text>
<path d="M1167,191.4 H1210 Q1212,191.4 1212,193.4 V208.1 Q1212,210.1 1210,210.1 H1167 Z" fill="#2196f3"/>
<text x="1176" y="205.1" font-size="12" fill="#fff" textLength="31.2" lengthAdjust="spacingAndGlyphs">31.22</text>
<path d="M1167,210.1 H1210 Q1212,210.1 1212,212.1 V224.1 Q1212,226.1 1210,226.1 H1167 Z" fill="#ff6d00"/>
<text x="1176" y="222.4" font-size="12" fill="#fff" textLength="31.2" lengthAdjust="spacingAndGlyphs">30.79</text>
<path d="M1167,226.1 H1210 Q1212,226.1 1212,228.1 V242.8 Q1212,244.8 1210,244.8 H1167 Z" fill="#26c6da"/>
<text x="1176" y="239.8" font-size="12" fill="#131722" textLength="31.2" lengthAdjust="spacingAndGlyphs">30.48</text>
<path d="M1167,524 H1210 Q1212,524 1212,526 V540.7 Q1212,542.7 1210,542.7 H1167 Z" fill="#7e57c2"/>
<text x="1176" y="537.6" font-size="12" fill="#fff" textLength="31.2" lengthAdjust="spacingAndGlyphs">49.58</text>
<g font-size="12" fill="#131722" text-anchor="middle">
<text x="143.5" y="600">Aug</text>
<text x="282.5" y="600">Sep</text>
<text x="414.5" y="600">Oct</text>
<text x="559.5" y="600">Nov</text>
<text x="691.5" y="600">Dec</text>
<text x="830.5" y="600" font-weight="bold" textLength="28.8" lengthAdjust="spacingAndGlyphs">2025</text>
<text x="975.5" y="600">Feb</text>
<text x="1101.5" y="600">Mar</text>
</g>
<text x="17.8" y="29.6" font-size="12" fill="#1c202a" textLength="73.4" lengthAdjust="spacingAndGlyphs">XAG/USD, 1D</text>
<text x="100.2" y="29.6" font-size="12" fill="#1c202a" textLength="8.1" lengthAdjust="spacingAndGlyphs">O</text>
<text x="108.8" y="29.6" font-size="12" fill="#f23645" textLength="30.7" lengthAdjust="spacingAndGlyphs">32.34</text>
<text x="147.6" y="29.6" font-size="12" fill="#1c202a" textLength="7.0" lengthAdjust="spacingAndGlyphs">H</text>
<text x="154.9" y="29.6" font-size="12" fill="#f23645" textLength="31.4" lengthAdjust="spacingAndGlyphs">32.48</text>
<text x="194.5" y="29.6" font-size="12" fill="#1c202a" textLength="5.6" lengthAdjust="spacingAndGlyphs">L</text>
<text x="200.5" y="29.6" font-size="12" fill="#f23645" textLength="30.6" lengthAdjust="spacingAndGlyphs">31.29</text>
<text x="239.2" y="29.6" font-size="12" fill="#1c202a" textLength="7.2" lengthAdjust="spacingAndGlyphs">C</text>
<text x="246.8" y="29.6" font-size="12" fill="#f23645" textLength="30.6" lengthAdjust="spacingAndGlyphs">31.75</text>
<text x="285.9" y="29.6" font-size="12" fill="#f23645" textLength="30.0" lengthAdjust="spacingAndGlyphs">−0.59</text>
<text x="321.3" y="29.6" font-size="12" fill="#f23645" textLength="46.1" lengthAdjust="spacingAndGlyphs">(−1.82%)</text>
<text x="17.8" y="47.5" font-size="12" fill="#1c202a" textLength="122.7" lengthAdjust="spacingAndGlyphs">Moving Average Triple</text>
<text x="145.7" y="47.5" font-size="12" fill="#1c202a" textLength="123.4" lengthAdjust="spacingAndGlyphs">(50, 100, 200, Simple)</text>
<text x="277.7" y="47.5" font-size="12" fill="#ff6d00" textLength="30.6" lengthAdjust="spacingAndGlyphs">30.79</text>
<text x="316.4" y="47.5" font-size="12" fill="#2196f3" textLength="30.4" lengthAdjust="spacingAndGlyphs">31.22</text>
<text x="354.9" y="47.5" font-size="12" fill="#26c6da" textLength="30.1" lengthAdjust="spacingAndGlyphs">30.48</text>
<text x="18.8" y="495" font-size="12" fill="#1c202a" textLength="41.2" lengthAdjust="spacingAndGlyphs">RSI (14)</text>
<text x="68.8" y="495" font-size="12" fill="#7e57c2" textLength="30.8" lengthAdjust="spacingAndGlyphs">49.58</text>
<rect x="10" y="10" width="1211" height="600" fill="none" stroke="#eaecf2" stroke-width="2"/>
<g fill="#131722"><g transform="translate(10.1,620.8) scale(0.578)"><path d="M14 22H7V11H0V4h14v18zM28 22h-8l7.5-18h8L28 22z"/><circle cx="20" cy="8" r="4"/></g>
<text x="34.5" y="633.5" font-size="14" textLength="73.7" lengthAdjust="spacingAndGlyphs" fill="#2a2e39">TradingView</text></g>
</svg></body></html>
